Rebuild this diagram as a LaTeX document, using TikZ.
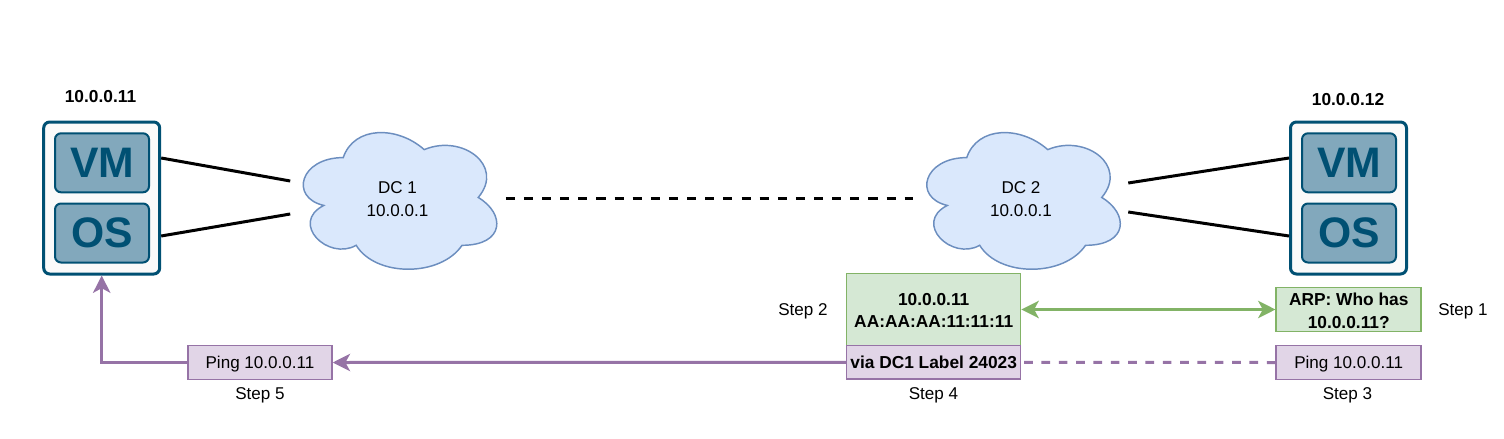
\documentclass[tikz,border=0pt]{standalone}
\usepackage{fontspec}
\setmainfont{Liberation Sans}
\usetikzlibrary{arrows.meta,backgrounds,calc}
\definecolor{hostblue}{HTML}{005073}
\definecolor{hostfill}{HTML}{FAFAFA}
\definecolor{innerfill}{HTML}{82A8BC}
\definecolor{cloudfill}{HTML}{DAE8FC}
\definecolor{cloudline}{HTML}{6C8EBF}
\definecolor{greenfill}{HTML}{D5E8D4}
\definecolor{greenline}{HTML}{82B366}
\definecolor{purplefill}{HTML}{E1D5E7}
\definecolor{purpleline}{HTML}{9673A6}
\newcommand{\cloudshape}[1]{%
  \begin{scope}[on background layer,shift={(#1.north west)},x=\pgfkeysvalueof{/tikz/cloudw},y=-119.6pt]
    \draw[fill=cloudfill,draw=cloudline,line width=1.1pt]
      (0.25,0.25) .. controls (0.05,0.25) and (0,0.5) .. (0.16,0.55)
      .. controls (0,0.66) and (0.18,0.9) .. (0.31,0.8)
      .. controls (0.4,1) and (0.7,1) .. (0.8,0.8)
      .. controls (1,0.8) and (1,0.6) .. (0.875,0.5)
      .. controls (1,0.3) and (0.8,0.1) .. (0.625,0.2)
      .. controls (0.5,0.05) and (0.3,0.05) .. (0.25,0.25) -- cycle;
  \end{scope}}
\newcommand{\topstrut}{\rule{0pt}{10.7pt}}
\tikzset{
  cloudw/.initial=162pt,
  sz/.style 2 args={minimum width=#1*0.75pt,minimum height=#2*0.75pt,inner sep=0pt},
  txt/.style={font=\fontsize{12.8}{16.9}\selectfont,align=center,text=black},
  boldtxt/.style={txt,font=\fontsize{13}{16.9}\selectfont\bfseries},
  host/.style={draw=hostblue,fill=hostfill,line width=2.25pt,rounded corners=4.5pt,sz={116}{152}},
  inner/.style={draw=hostblue,fill=innerfill,line width=1.5pt,rounded corners=4.5pt,sz={94}{59},
    text=hostblue,font=\fontsize{32}{34}\selectfont\bfseries},
  greenbox/.style={boldtxt,draw=greenline,fill=greenfill,line width=1.1pt},
  purplebox/.style={txt,draw=purpleline,fill=purplefill,line width=1.1pt},
  dc/.style={txt,sz={216}{160}},
  oneline/.style={text depth=0pt},
  wire/.style={line width=2.25pt,black},
  ptip/.style={-{Stealth[length=13pt,width=13pt,inset=3.5pt]}},
  purplewire/.style={line width=2.25pt,purpleline},
  greenwire/.style={line width=2.25pt,greenline,
    {Stealth[length=13pt,width=13pt,inset=3.5pt]}-{Stealth[length=13pt,width=13pt,inset=3.5pt]}}
}
\begin{document}
\begin{tikzpicture}[x=0.75pt,y=-0.75pt]
\useasboundingbox (0,0) rectangle (1504,439);
% hosts
\node[host] (h1) at (101.7,198) {};
\node[inner] (vm1) at (102,162.8) {VM};
\node[inner] (os1) at (102,233) {OS};
\node[boldtxt] (ip1) at (100.5,97) {10.0.0.11};
\node[host] (h2) at (1348.5,198) {};
\node[inner] (vm2) at (1349,162.8) {VM};
\node[inner] (os2) at (1349,233) {OS};
\node[boldtxt] (ip2) at (1348,99.5) {10.0.0.12};
% clouds
\node[dc] (dc1) at (397.5,198) {\topstrut DC 1\\10.0.0.1};
\node[dc] (dc2) at (1021,198) {\topstrut DC 2\\10.0.0.1};
\cloudshape{dc1}
\cloudshape{dc2}
% boxes
\node[greenbox,sz={174}{72.4}] (mac) at (933.7,309.5) {\topstrut 10.0.0.11\\AA:AA:AA:11:11:11};
\node[purplebox,boldtxt,sz={174}{33.3},oneline] (via) at (933.7,362.4) {via DC1 Label 24023};
\node[greenbox,sz={145}{44}] (arp) at (1348.7,309.7) {\topstrut ARP: Who has\\10.0.0.11?};
\node[purplebox,sz={145}{33.5},oneline] (ping3) at (1348.7,362.5) {Ping 10.0.0.11};
\node[purplebox,sz={144}{33.5},oneline] (ping5) at (260,362.5) {Ping 10.0.0.11};
% step labels
\node[txt,oneline] (s1) at (1463,310) {Step 1};
\node[txt,oneline] (s2) at (803,310) {Step 2};
\node[txt,oneline] (s3) at (1347.5,393.5) {Step 3};
\node[txt,oneline] (s4) at (933.5,393.5) {Step 4};
\node[txt,oneline] (s5) at (260,393.5) {Step 5};
% connectors
\draw[wire] ($(h1.east)+(0,-40)$) -- ($(dc1.west)+(1,-17)$);
\draw[wire] ($(h1.east)+(0,38)$) -- ($(dc1.west)+(1,16)$);
\draw[wire] ($(h2.west)+(0,-40)$) -- ($(dc2.east)+(-1,-15)$);
\draw[wire] ($(h2.west)+(0,38)$) -- ($(dc2.east)+(-1,14)$);
\draw[wire,dash pattern=on 6.8pt off 6.8pt] (dc1.east) -- (dc2.west);
\draw[greenwire] (mac.east) -- (mac.east -| arp.west);
\draw[purplewire,dash pattern=on 6.5pt off 6.5pt] (ping3.west) -- (via.east);
\draw[purplewire,ptip] (via.west) -- (ping5.east);
\draw[purplewire,ptip] (ping5.west) -| (h1.south);
\end{tikzpicture}
\end{document}
